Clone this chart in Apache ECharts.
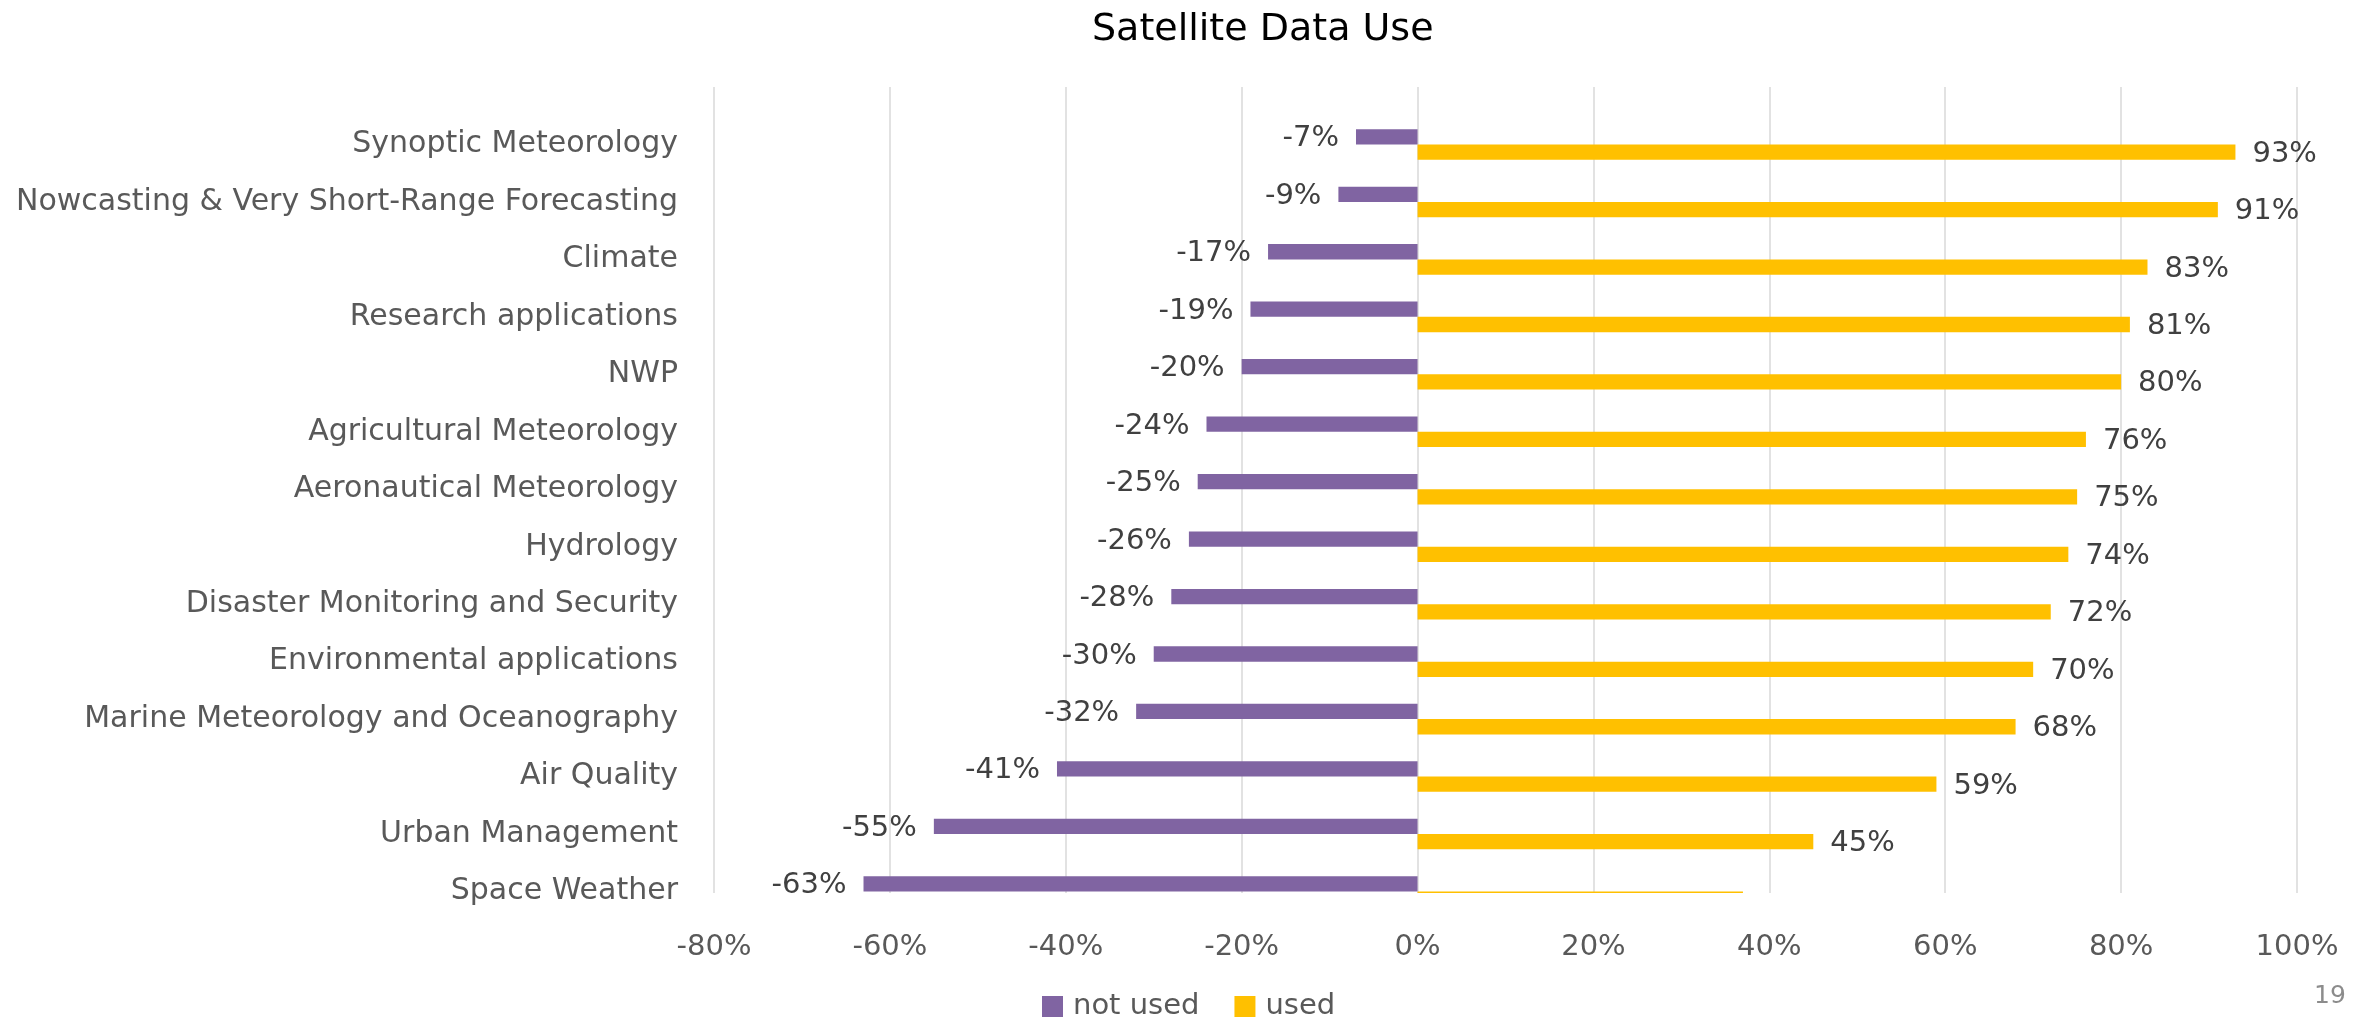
<!DOCTYPE html>
<html>
<head>
<meta charset="utf-8">
<title>Satellite Data Use</title>
<script src="https://cdn.jsdelivr.net/npm/echarts@6/dist/echarts.min.js"></script>
<style>
  html, body { margin: 0; padding: 0; background: #ffffff; }
  #chart { width: 2358px; height: 1020px; }
</style>
</head>
<body>
<div id="chart"></div>
<script>
// Application areas, top to bottom
const categories = [
  'Synoptic Meteorology',
  'Nowcasting & Very Short-Range Forecasting',
  'Climate',
  'Research applications',
  'NWP',
  'Agricultural Meteorology',
  'Aeronautical Meteorology',
  'Hydrology',
  'Disaster Monitoring and Security',
  'Environmental applications',
  'Marine Meteorology and Oceanography',
  'Air Quality',
  'Urban Management',
  'Space Weather'
];

// Share of respondents (%)
const notUsed = [-7, -9, -17, -19, -20, -24, -25, -26, -28, -30, -32, -41, -55, -63];
const used = [93, 91, 83, 81, 80, 76, 75, 74, 72, 70, 68, 59, 45, 37];

// Percentage axis
const xMin = -80;
const xMax = 100;
const xStep = 20;

const FONT = "'DejaVu Sans', 'Liberation Sans', sans-serif";
const PURPLE = '#8064A2';
const YELLOW = '#FFC000';
const BAR_RATIO = 0.266;   // bar thickness as a share of one category step
const LABEL_GAP = 17;
const LABEL_DROP = 2;      // nudges value labels onto the optical centre of the bar

// Each category sits on a whole-number row; the plot runs a hair past the last row.
const rowMax = categories.length + 0.026;

// Draws one horizontal bar per row, above (side -1) or below (side +1) the row line,
// clipped to the plotting area, with its value written past the bar end.
function barRenderer(side) {
  return function (params, api) {
    const value = api.value(0);
    const row = api.value(1);
    const zero = api.coord([0, row]);
    const end = api.coord([value, row]);
    const thick = api.size([0, 1])[1] * BAR_RATIO;
    const cs = params.coordSys;
    const full = {
      x: Math.min(zero[0], end[0]),
      y: side < 0 ? zero[1] - thick : zero[1],
      width: Math.abs(end[0] - zero[0]),
      height: thick
    };
    const shape = echarts.graphic.clipRectByRect(
      { x: full.x, y: full.y, width: full.width, height: full.height },
      { x: cs.x, y: cs.y, width: cs.width, height: cs.height }
    );
    if (!shape) return null;
    const children = [{
      type: 'rect',
      shape: shape,
      style: { fill: api.visual('color') }
    }];
    const midY = full.y + full.height / 2;
    if (midY <= cs.y + cs.height) {
      children.push({
        type: 'text',
        x: value < 0 ? full.x - LABEL_GAP : full.x + full.width + LABEL_GAP,
        y: midY + LABEL_DROP,
        style: {
          text: value + '%',
          fill: '#404040',
          font: '29px ' + FONT,
          align: value < 0 ? 'right' : 'left',
          verticalAlign: 'middle'
        }
      });
    }
    return { type: 'group', children: children };
  };
}

const chart = echarts.init(document.getElementById('chart'), null, { renderer: 'canvas' });

chart.setOption({
  animation: false,
  backgroundColor: '#ffffff',
  textStyle: { fontFamily: FONT },
  title: {
    text: 'Satellite Data Use',
    left: 1092,
    top: 11,
    padding: 0,
    textStyle: { fontFamily: FONT, fontSize: 38, fontWeight: 'normal', color: '#000000' }
  },
  legend: {
    data: ['not used', 'used'],
    left: 1042,
    top: 992,
    padding: 0,
    icon: 'rect',
    itemWidth: 21,
    itemHeight: 21,
    itemGap: 35,
    selectedMode: false,
    textStyle: { fontFamily: FONT, fontSize: 29, color: '#595959', padding: [0, 0, 0, 5] }
  },
  grid: {
    left: 714,
    right: 61,
    top: 87,
    bottom: 127,
    containLabel: false,
    outerBoundsMode: 'none'
  },
  xAxis: {
    type: 'value',
    min: xMin,
    max: xMax,
    interval: xStep,
    axisLine: { show: false },
    axisTick: { show: false },
    splitLine: { show: true, lineStyle: { color: '#D9D9D9', width: 1.5 } },
    axisLabel: {
      formatter: '{value}%',
      color: '#595959',
      fontFamily: FONT,
      fontSize: 29,
      margin: 40
    }
  },
  yAxis: {
    type: 'value',
    inverse: true,
    min: 0,
    max: rowMax,
    interval: 1,
    axisLine: { show: false },
    axisTick: { show: false },
    splitLine: { show: false },
    axisLabel: {
      color: '#595959',
      fontFamily: FONT,
      fontSize: 30,
      margin: 36,
      showMinLabel: true,
      showMaxLabel: true,
      formatter: function (v) {
        const i = Math.round(v);
        return Math.abs(v - i) < 1e-6 && i >= 1 && i <= categories.length ? categories[i - 1] : '';
      }
    }
  },
  series: [
    {
      name: 'not used',
      type: 'custom',
      coordinateSystem: 'cartesian2d',
      itemStyle: { color: PURPLE },
      encode: { x: 0, y: 1 },
      data: notUsed.map((v, i) => [v, i + 1]),
      renderItem: barRenderer(-1)
    },
    {
      name: 'used',
      type: 'custom',
      coordinateSystem: 'cartesian2d',
      itemStyle: { color: YELLOW },
      encode: { x: 0, y: 1 },
      data: used.map((v, i) => [v, i + 1]),
      renderItem: barRenderer(1)
    }
  ],
  graphic: [{
    type: 'text',
    x: 2314,
    y: 996,
    style: {
      text: '19',
      fill: '#8C8C8C',
      font: '25px ' + FONT,
      verticalAlign: 'middle'
    }
  }]
});
</script>
</body>
</html>
